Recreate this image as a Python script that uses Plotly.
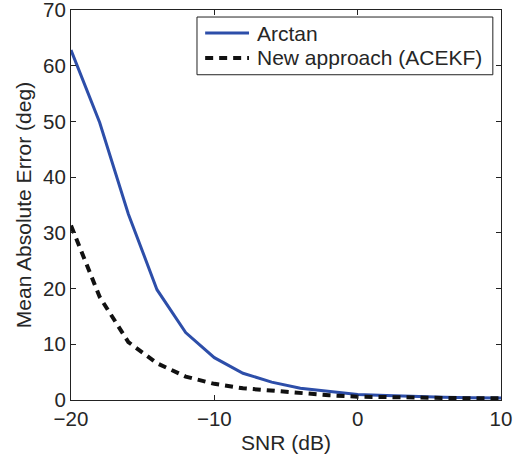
import plotly.graph_objects as go

snr = [-20, -18, -16, -14, -12, -10, -8, -6, -4, -2, 0, 2, 4, 6, 8, 10]
arctan = [62.8, 49.8, 33.4, 19.8, 12.1, 7.6, 4.8, 3.2, 2.1, 1.5, 1.0, 0.8, 0.6, 0.5, 0.4, 0.35]
acekf = [31.3, 18.5, 10.4, 6.6, 4.2, 2.9, 2.1, 1.7, 1.2, 0.85, 0.6, 0.5, 0.4, 0.35, 0.3, 0.3]
series_names = ["Arctan", "New approach (ACEKF)"]

x_ticks = [-20, -10, 0, 10]
x_tick_labels = ["\u221220", "\u221210", "0", "10"]
y_ticks = [0, 10, 20, 30, 40, 50, 60, 70]

font_family = "Liberation Sans, Arial, sans-serif"
txt = "#262626"
blue = "#2D4EA9"
black = "#111111"
blue_line = dict(color=blue, width=3)
dash_line = dict(color=black, width=4, dash="8px,6px")

fig = go.Figure()
fig.add_trace(go.Scatter(x=snr, y=arctan, mode="lines", name=series_names[0], line=blue_line))
fig.add_trace(go.Scatter(x=snr, y=acekf, mode="lines", name=series_names[1], line=dash_line))

axis_common = dict(showgrid=False, zeroline=False, showline=True, linecolor="#222222",
                   linewidth=1, mirror="ticks", ticks="inside", ticklen=5, automargin=False,
                   ticklabeloverflow="allow",
                   tickcolor="#222222", tickfont=dict(size=20.5, color=txt, family=font_family))

fig.update_xaxes(range=[-20, 10], tickvals=x_ticks, ticktext=x_tick_labels,
                 title=dict(text="SNR (dB)", font=dict(size=21, color=txt, family=font_family), standoff=6),
                 **axis_common)
fig.update_yaxes(range=[0, 70], tickvals=y_ticks,
                 title=dict(text="Mean Absolute Error (deg)", font=dict(size=21, color=txt, family=font_family), standoff=5),
                 **axis_common)

# hand-built legend box (MATLAB style)
lg = dict(x0=0.293, x1=0.981, y0=0.834, y1=0.982)
rows_y = [0.941, 0.877]
sym_x = (0.312, 0.414)
text_x = 0.428
fig.add_shape(type="rect", xref="paper", yref="paper", x0=lg["x0"], x1=lg["x1"],
              y0=lg["y0"], y1=lg["y1"], line=dict(color="#222222", width=1), fillcolor="white")
for name, ry, ln in zip(series_names, rows_y, [blue_line, dash_line]):
    fig.add_shape(type="line", xref="paper", yref="paper", x0=sym_x[0], x1=sym_x[1],
                  y0=ry, y1=ry, line=ln)
    fig.add_annotation(xref="paper", yref="paper", x=text_x, y=ry, text=name,
                       showarrow=False, xanchor="left", yanchor="middle",
                       font=dict(size=21, color=txt, family=font_family))

fig.update_layout(
    width=528, height=456,
    margin=dict(l=71, r=27, t=10, b=56),
    paper_bgcolor="white", plot_bgcolor="white",
    font=dict(family=font_family, color=txt, size=21),
    showlegend=False,
)

fig.write_html("out.html", config={"displayModeBar": False},
               post_script="document.body.style.margin='0';document.body.style.overflow='hidden';")
